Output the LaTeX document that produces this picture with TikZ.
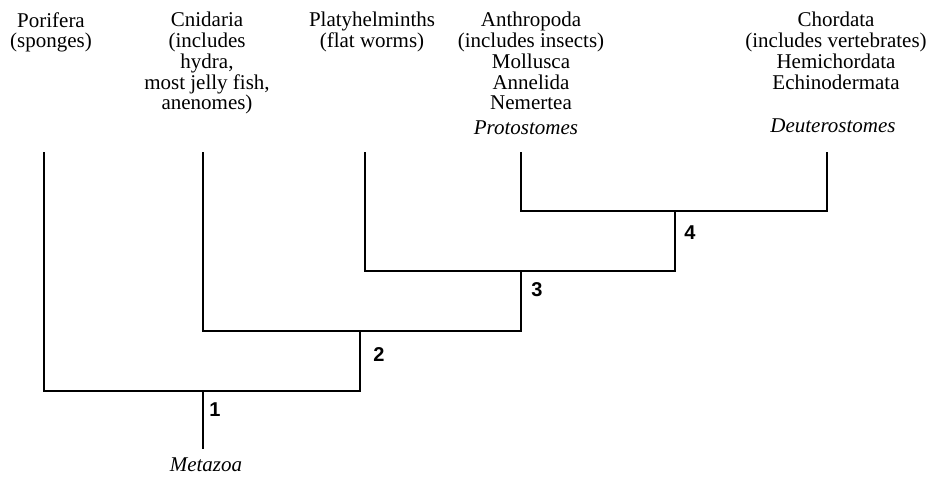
\documentclass[tikz,border=0pt]{standalone}
\usepackage{fontspec}
\setmainfont{Liberation Serif}
\newfontfamily\numfont{Liberation Sans}
\begin{document}
\begin{tikzpicture}[x=1pt,y=-1pt,
  branch/.style={line width=1.6pt, line join=miter},
  taxon/.style={anchor=north, inner sep=0pt, align=center,
    font=\fontsize{21}{20.7}\selectfont},
  group/.style={anchor=base, inner sep=0pt,
    font=\fontsize{21}{20.7}\selectfont\itshape},
  cladenum/.style={inner sep=0pt, font=\fontsize{20}{22}\selectfont\numfont\bfseries}]
\useasboundingbox (0,0) rectangle (934,477);

% taxon labels
\node[taxon] (porifera) at (51,12.2) {Porifera\\(sponges)};
\node[taxon] (cnidaria) at (207,12.2) {Cnidaria\\(includes\\hydra,\\most jelly fish,\\anenomes)};
\node[taxon] (platy) at (372,12.2) {Platyhelminths\\(flat worms)};
\node[taxon] (anthro) at (531,12.2) {Anthropoda\\(includes insects)\\Mollusca\\Annelida\\Nemertea};
\node[taxon] (chord) at (836,12.2) {Chordata\\(includes vertebrates)\\Hemichordata\\Echinodermata};
\node[group] (proto) at (526,134) {Protostomes};
\node[group] (deutero) at (833,132) {Deuterostomes};
\node[group] (metazoa) at (206,471.5) {Metazoa};

% branch tips
\coordinate (tP) at (44,152);
\coordinate (tC) at (203,152);
\coordinate (tF) at (365,152);
\coordinate (tPr) at (521,152);
\coordinate (tD) at (827,152);

% internal nodes and root
\coordinate (n4) at (675,211);
\coordinate (n3) at (521,271);
\coordinate (n2) at (360,331);
\coordinate (n1) at (203,391);
\coordinate (root) at (203,449);

% tree
\draw[branch] (tPr) |- (n4) -| (tD);
\draw[branch] (n4) |- (tF |- n3) -- (tF);
\draw[branch] (n3) |- (tC |- n2) -- (tC);
\draw[branch] (n2) |- (tP |- n1) -- (tP);
\draw[branch] (n1) -- (root);

% clade numbers
\node[cladenum] (c1) at (215,410) {1};
\node[cladenum] (c2) at (379,355) {2};
\node[cladenum] (c3) at (537,290) {3};
\node[cladenum] (c4) at (690,233) {4};
\end{tikzpicture}
\end{document}
